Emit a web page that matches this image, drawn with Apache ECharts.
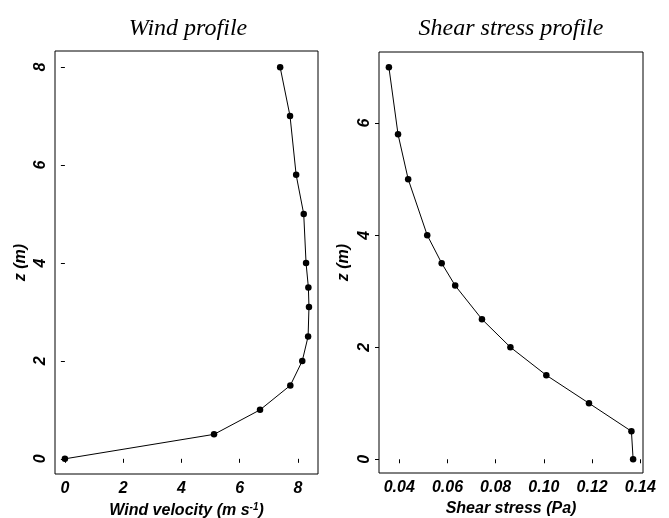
<!DOCTYPE html>
<html><head><meta charset="utf-8">
<script src="https://cdn.jsdelivr.net/npm/echarts@6/dist/echarts.min.js"></script>
<style>html,body{margin:0;padding:0;background:#fff}#c{width:669px;height:518px}</style>
</head><body><div id="c"></div>
<script>
// Wind profile
const windHeights = [0, 0.5, 1, 1.5, 2, 2.5, 3.1, 3.5, 4, 5, 5.8, 7, 8];
const windVelocity = [0, 5.12, 6.70, 7.74, 8.15, 8.35, 8.38, 8.36, 8.28, 8.2, 7.94, 7.73, 7.39];
// Shear stress profile
const stressHeights = [0, 0.5, 1, 1.5, 2, 2.5, 3.1, 3.5, 4, 5, 5.8, 7];
const shearStress = [0.137, 0.1363, 0.1187, 0.1010, 0.0861, 0.0743, 0.0632, 0.0576, 0.0516, 0.0437, 0.0395, 0.0357];
// tick labels
const windXTicks = [0, 2, 4, 6, 8];
const windYTicks = [0, 2, 4, 6, 8];
const stressXTicks = [0.04, 0.06, 0.08, 0.10, 0.12, 0.14];
const stressYTicks = [0, 2, 4, 6];

const chart = echarts.init(document.getElementById('c'));
const tickFont = {fontFamily: 'Liberation Sans', fontWeight: 'bold', fontStyle: 'italic', fontSize: 16, color: '#000'};
const nameFont = {fontFamily: 'Liberation Sans', fontWeight: 'bold', fontStyle: 'italic', fontSize: 16, color: '#000'};
function xAx(idx, min, max, ticks, name, fmt) {
  return {
    type: 'value', gridIndex: idx, min: min, max: max,
    axisLine: {show: false}, splitLine: {show: false},
    axisTick: {show: true, length: 4, lineStyle: {color: '#000'}, customValues: ticks},
    axisLabel: Object.assign({margin: 7, customValues: ticks, formatter: fmt}, tickFont),
    name: name, nameLocation: 'middle', nameGap: 27,
    nameTextStyle: Object.assign({rich: {
      n: nameFont,
      sup: Object.assign({}, nameFont, {fontSize: 10, verticalAlign: 'top', padding: [0, 0, 8, 0]})
    }}, nameFont)
  };
}
function yAx(idx, min, max, ticks, gap) {
  return {
    type: 'value', gridIndex: idx, min: min, max: max,
    axisLine: {show: false}, splitLine: {show: false},
    axisTick: {show: true, length: 4, lineStyle: {color: '#000'}, customValues: ticks},
    axisLabel: Object.assign({margin: 6, rotate: 90, customValues: ticks}, tickFont),
    name: 'z (m)', nameLocation: 'middle', nameGap: gap, nameRotate: 90,
    nameTextStyle: nameFont
  };
}
function ser(idx, xs, ys) {
  return {
    type: 'line', xAxisIndex: idx, yAxisIndex: idx,
    data: xs.map((v, i) => [v, ys[i]]),
    symbol: 'circle', symbolSize: 6.5,
    itemStyle: {color: '#000'}, lineStyle: {color: '#000', width: 1},
    animation: false, silent: true
  };
}
chart.setOption({
  animation: false,
  title: [
    {text: 'Wind profile', left: 183, top: 12, textAlign: 'center',
     textStyle: {fontFamily: 'Liberation Serif', fontStyle: 'italic', fontWeight: 'normal', fontSize: 24, color: '#000'}},
    {text: 'Shear stress profile', left: 506, top: 12, textAlign: 'center',
     textStyle: {fontFamily: 'Liberation Serif', fontStyle: 'italic', fontWeight: 'normal', fontSize: 24, color: '#000'}}
  ],
  grid: [
    {left: 55, top: 51, width: 263, height: 423, show: true, borderColor: '#000', borderWidth: 1, backgroundColor: 'transparent', outerBoundsMode: 'none', containLabel: false},
    {left: 379, top: 52, width: 264, height: 421, show: true, borderColor: '#000', borderWidth: 1, backgroundColor: 'transparent', outerBoundsMode: 'none', containLabel: false}
  ],
  xAxis: [
    xAx(0, -0.34, 8.69, windXTicks, '{n|Wind velocity (m s}{sup|-1}{n|)}', v => String(v)),
    xAx(1, 0.0316, 0.1411, stressXTicks, 'Shear stress (Pa)', v => v.toFixed(2))
  ],
  yAxis: [
    yAx(0, -0.31, 8.33, windYTicks, 26),
    yAx(1, -0.245, 7.27, stressYTicks, 27)
  ],
  series: [
    ser(0, windVelocity, windHeights),
    ser(1, shearStress, stressHeights)
  ]
});
</script></body></html>
